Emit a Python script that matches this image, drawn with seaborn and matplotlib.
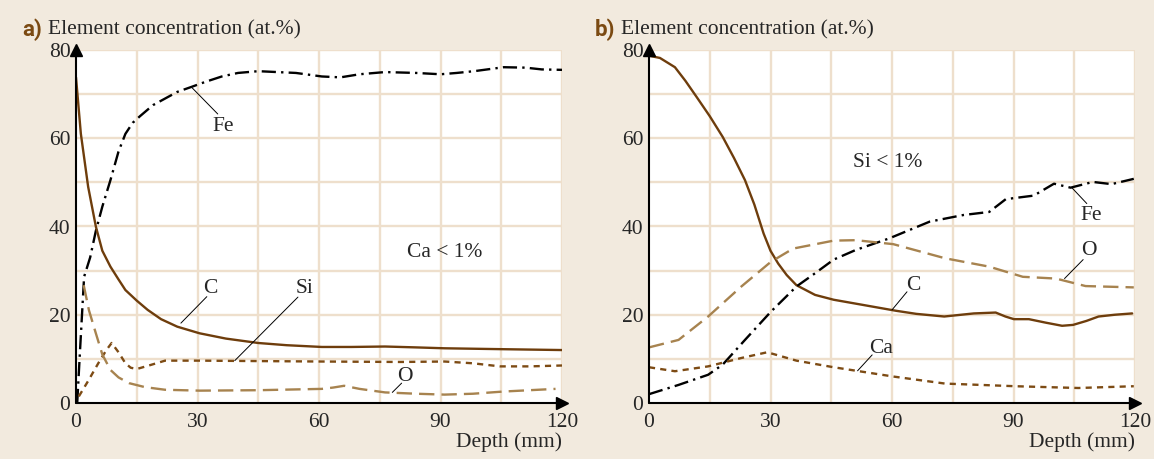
import matplotlib
matplotlib.use("Agg")
import matplotlib.pyplot as plt
import seaborn as sns
import pandas as pd

# panel a) values
a_fe_depth = [0.3, 1, 2, 3.5, 4.9, 6.5, 8.5, 10.5, 12.2, 14, 15.8, 19, 22, 25, 28.7, 32, 36, 40, 45,
              54.3, 60.7, 65.3, 70, 76.3, 84, 90, 94, 98.3, 105.6, 111, 115, 120]
a_fe = [0, 12, 28.6, 33, 39, 44.5, 50.5, 57, 61, 63.5, 65, 67.5, 69, 70.5, 71.7, 72.8, 74, 74.8, 75.2,
        74.8, 74, 73.8, 74.5, 75, 74.8, 74.5, 74.8, 75.2, 76.1, 76, 75.6, 75.5]
a_c_depth = [0, 1.2, 3, 4.9, 6.5, 8.5, 10.5, 12.2, 15, 17.7, 21, 25, 30.5, 37, 45, 52, 60.7, 68, 76.3,
             84, 91, 105, 120]
a_c = [73.8, 61, 49, 40, 34.5, 30.9, 28, 25.6, 23.2, 21.1, 19, 17.3, 15.8, 14.6, 13.6, 13.1, 12.7, 12.7,
       12.8, 12.6, 12.4, 12.2, 12]
a_si_depth = [0.7, 3, 5.5, 7.5, 8.8, 10.5, 12.2, 13.5, 15, 18, 22, 30.5, 45, 60.7, 80, 91, 98, 104.7, 112, 120]
a_si = [1.5, 5, 9, 12, 13.6, 11.5, 9, 8, 7.7, 8.5, 9.6, 9.6, 9.5, 9.4, 9.3, 9.4, 9, 8.3, 8.3, 8.5]
a_o_depth = [1.9, 3.2, 4.9, 6.5, 8.5, 10.5, 13.1, 17, 22, 30.5, 45, 60.7, 63.5, 66.2, 70, 76.3, 84, 91,
             98, 105.6, 118.4]
a_o = [26.7, 21, 15.8, 11, 7.5, 5.8, 4.5, 3.6, 3, 2.8, 2.9, 3.2, 3.5, 3.9, 3.2, 2.4, 2.1, 1.9, 2.1, 2.6, 3.2]

# panel b)
b_c_depth = [0, 2.7, 6.4, 9, 11.8, 15, 18.2, 21, 23.7, 26, 28.3, 30, 31.9, 34, 36.4, 41, 45.6, 53, 61,
             66, 72.9, 80.2, 85.6, 88, 90.1, 93.8, 98, 102, 104.7, 108, 111, 115, 119.3]
b_c = [78.7, 78.2, 76.1, 73, 69.3, 65, 60.3, 55.5, 50.5, 45, 38.4, 34.5, 31.6, 29, 26.7, 24.5, 23.4, 22.2,
       20.9, 20.2, 19.6, 20.3, 20.5, 19.6, 19, 19, 18.2, 17.5, 17.7, 18.6, 19.6, 20, 20.3]
b_fe_depth = [0, 7.3, 14.6, 18.2, 23.7, 30.1, 36.4, 41, 45.6, 51.1, 59.3, 69.3, 77.6, 84, 88.1, 95, 100,
              104.1, 109.6, 114.2, 119.7]
b_fe = [2, 4.1, 6.4, 8.7, 14.3, 20.7, 26.4, 29.4, 32.5, 34.7, 37.3, 41.1, 42.6, 43.3, 46.2, 47, 49.7,
        48.8, 50.1, 49.6, 50.8]
b_o_depth = [0, 7.3, 14.6, 22.8, 30.1, 35.6, 45.6, 51.1, 60.3, 73.1, 84, 92.3, 100.5, 107.8, 119.7]
b_o = [12.6, 14.3, 19.6, 26.4, 32, 35, 36.8, 36.9, 36, 32.8, 30.9, 28.6, 28.2, 26.5, 26.2]
b_ca_depth = [0, 6.4, 14.6, 22.8, 29.2, 36.4, 45.6, 60.3, 73.1, 90.5, 106, 119.7]
b_ca = [8.1, 7.2, 8.3, 10.2, 11.5, 9.6, 8.1, 6, 4.4, 3.8, 3.4, 3.8]

BG = "#F2EADE"
GRID = "#EEDFCC"
DARK = "#6E3D0C"
MID = "#7D4B14"
LIGHT = "#A7834F"
SERIF = "Liberation Serif"
FS = 15.5

styles = {
    "Fe": dict(color="black", linestyle=(0, (6, 2.2, 1, 2.2))),
    "C": dict(color=DARK, linestyle="-"),
    "Si": dict(color=MID, linestyle=(0, (2.6, 2.2))),
    "Ca": dict(color=MID, linestyle=(0, (2.6, 2.2))),
    "O": dict(color=LIGHT, linestyle=(0, (6.5, 3))),
}

panels = {
    "a": [("Fe", a_fe_depth, a_fe), ("C", a_c_depth, a_c), ("Si", a_si_depth, a_si), ("O", a_o_depth, a_o)],
    "b": [("C", b_c_depth, b_c), ("Fe", b_fe_depth, b_fe), ("O", b_o_depth, b_o), ("Ca", b_ca_depth, b_ca)],
}

labels = {
    "a": [("Fe", (36.4, 62.7), (28.7, 71.4), (35, 65.5)),
          ("C", (33.2, 26), (25.9, 18.1), (32.3, 24.1)),
          ("Si", (56.4, 26), (39.2, 9.6), (54.8, 24)),
          ("O", (81.2, 6), (78.1, 2.4), (80.4, 4.5))],
    "b": [("Fe", (109.2, 42.6), (104.4, 48.8), (108.1, 45.2)),
          ("O", (108.6, 34.6), (102.6, 28.2), (107.2, 32.5)),
          ("C", (65.2, 26.7), (60, 21.1), (63.7, 25.2)),
          ("Ca", (57.4, 12.4), (51.5, 7.3), (55.1, 10.9))],
}
notes = {"a": ("Ca < 1%", (91, 34.1)), "b": ("Si < 1%", (59, 54.6))}

sns.set_theme(style="white")
plt.rcParams["font.family"] = [SERIF, "DejaVu Serif"]

fig = plt.figure(figsize=(11.54, 4.59), dpi=100, facecolor=BG)
lefts = {"a": 76 / 1154, "b": 649 / 1154}
width = 486 / 1154
bottom = 1 - 403 / 459
height = (403 - 50) / 459

for key in ["a", "b"]:
    ax = fig.add_axes([lefts[key], bottom, width, height])
    ax.set_facecolor("white")
    ax.set_xlim(0, 120)
    ax.set_ylim(0, 80)
    for v in range(15, 121, 15):
        ax.axvline(v, color=GRID, lw=1.7, zorder=0)
    for v in range(10, 81, 10):
        ax.axhline(v, color=GRID, lw=1.7, zorder=0)

    for name, xs, ys in panels[key]:
        df = pd.DataFrame({"depth": xs, "conc": ys})
        sns.lineplot(data=df, x="depth", y="conc", ax=ax, estimator=None, sort=False,
                     lw=1.7, zorder=3, **styles[name])

    for name, txt_xy, p0, p1 in labels[key]:
        ax.plot([p0[0], p1[0]], [p0[1], p1[1]], color="black", lw=0.7, zorder=4)
        ax.text(txt_xy[0], txt_xy[1], name, fontsize=FS, ha="center", va="center", zorder=5)
    note, pos = notes[key]
    ax.text(pos[0], pos[1], note, fontsize=FS, ha="center", va="center")

    for s in ax.spines.values():
        s.set_visible(False)
    ax.plot([0, 0], [0, 80], color="black", lw=1.5, clip_on=False, zorder=6)
    ax.plot([0, 120], [0, 0], color="black", lw=1.5, clip_on=False, zorder=6)
    ax.plot([0], [80], marker="^", color="black", ms=9, clip_on=False, zorder=7)
    ax.plot([120], [0], marker=">", color="black", ms=9, clip_on=False, zorder=7)

    ax.set_xticks([0, 30, 60, 90, 120])
    ax.set_yticks([0, 20, 40, 60, 80])
    ax.tick_params(axis="x", length=0, labelsize=FS, pad=7)
    ax.tick_params(axis="y", length=0, labelsize=FS, pad=4)
    ax.set_xlabel("")
    ax.set_ylabel("")
    ax.grid(False)

    ax.text(1.0, -0.112, "Depth (mm)", transform=ax.transAxes, fontsize=FS,
            ha="right", va="center")
    fig.text(lefts[key] - 54 / 1154, 1 - 30 / 459, key + ")", fontsize=16, fontweight="bold",
             color="#7B4A12", family=["Roboto", "DejaVu Sans"], ha="left", va="center")
    fig.text(lefts[key] - 28 / 1154, 1 - 30 / 459, "Element concentration (at.%)", fontsize=FS,
             ha="left", va="center")

fig.savefig("out.png", dpi=100, facecolor=BG)
